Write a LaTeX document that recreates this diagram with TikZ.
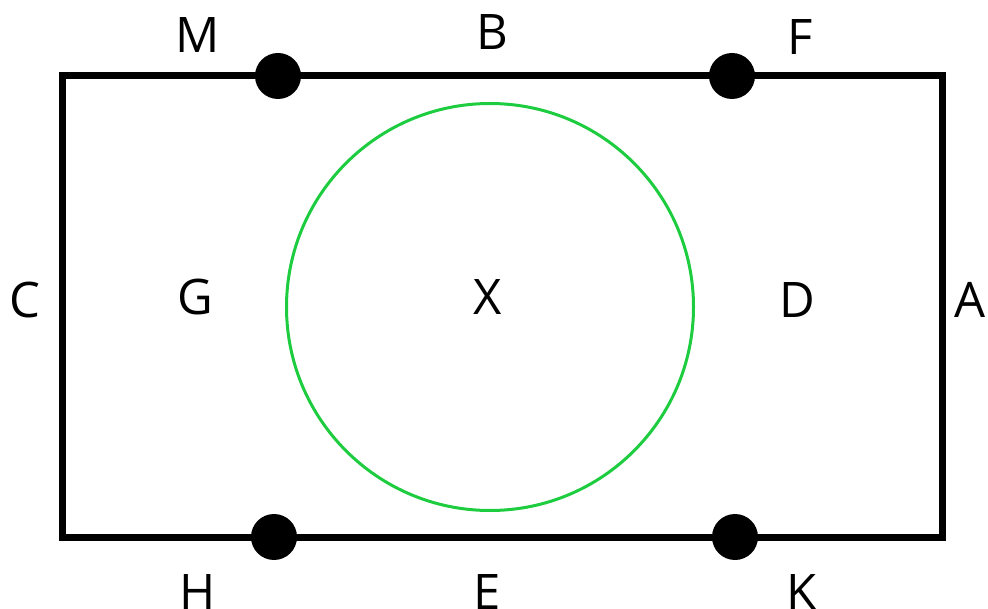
\documentclass[tikz,border=0pt]{standalone}
\usepackage{fontspec}
\setmainfont{Open Sans}
\definecolor{cgreen}{RGB}{30,204,64}
\begin{document}
\begin{tikzpicture}[x=1pt,y=-1pt,
  lbl/.style={font=\fontsize{49}{52}\selectfont, inner sep=0pt},
  dot/.style={circle, fill=black, minimum size=46pt, inner sep=0pt}]
\useasboundingbox (0,0) rectangle (988,609);
\coordinate (tl) at (62,76);
\coordinate (br) at (942,537);
\draw[line width=7pt, line join=miter] (tl) rectangle (br);
\node[draw=cgreen, line width=3pt, circle, minimum size=407pt, inner sep=0pt] (circ) at (490,307) {};
\node[dot] (d1) at (278,76) {};
\node[dot] (d2) at (732,76) {};
\node[dot] (d3) at (274,537) {};
\node[dot] (d4) at (735,537) {};
\node[lbl] (M) at (198,35) {M};
\node[lbl] (B) at (492,32) {B};
\node[lbl] (F) at (800,37) {F};
\node[lbl] (C) at (25,300) {C};
\node[lbl] (G) at (195,297) {G};
\node[lbl] (X) at (488,297) {X};
\node[lbl] (D) at (797,300) {D};
\node[lbl] (A) at (970,300) {A};
\node[lbl] (H) at (198,592) {H};
\node[lbl] (E) at (487,592) {E};
\node[lbl] (K) at (802,592) {K};
\end{tikzpicture}
\end{document}
